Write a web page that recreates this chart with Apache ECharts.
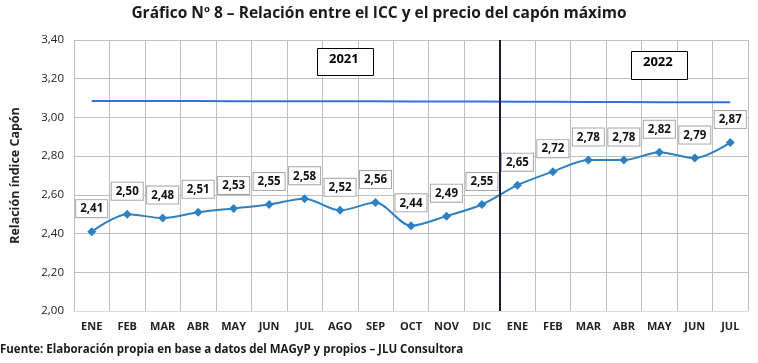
<!DOCTYPE html>
<html><head><meta charset="utf-8">
<script src="https://cdn.jsdelivr.net/npm/echarts@6/dist/echarts.min.js"></script>
<style>html,body{margin:0;padding:0;background:#fff}#c{width:758px;height:363px}</style>
</head><body><div id="c"></div>
<script>
const categories = ['ENE','FEB','MAR','ABR','MAY','JUN','JUL','AGO','SEP','OCT','NOV','DIC','ENE','FEB','MAR','ABR','MAY','JUN','JUL'];
const relacion = [2.41,2.50,2.48,2.51,2.53,2.55,2.58,2.52,2.56,2.44,2.49,2.55,2.65,2.72,2.78,2.78,2.82,2.79,2.87];
const referencia = [3.085,3.085,3.085,3.085,3.084,3.084,3.083,3.083,3.083,3.082,3.082,3.082,3.081,3.081,3.080,3.080,3.079,3.079,3.078];
const yearLabels = ['2021','2022'];
const yTicks = {min:2.0, max:3.4, interval:0.2};
const fmt = v => Number(v).toFixed(2).replace('.', ',');
const FONT = 'Open Sans';

const chart = echarts.init(document.getElementById('c'), null, {renderer:'canvas'});
chart.setOption({
  animation:false,
  textStyle:{fontFamily:FONT},
  title:{
    text:'Gráfico Nº 8 – Relación entre el ICC y el precio del capón máximo',
    left:'center', top:1,
    textStyle:{fontFamily:FONT, fontSize:15.5, fontWeight:'bold', color:'#1a1a1a'}
  },
  grid:{left:74, right:10, top:40, bottom:52},
  xAxis:[{
    type:'category', data:categories, boundaryGap:true,
    axisLine:{show:true, lineStyle:{color:'#d9d9d9'}},
    axisTick:{show:false},
    axisLabel:{color:'#222', fontSize:11, fontWeight:'bold', margin:10, interval:0},
    splitLine:{show:true, interval:0, lineStyle:{color:'#bfbfbf', width:1}}
  },{
    type:'value', min:-0.5, max:18.5, show:false
  }],
  yAxis:{
    type:'value', min:yTicks.min, max:yTicks.max, interval:yTicks.interval,
    name:'Relación índice Capón', nameLocation:'middle', nameGap:52,
    nameTextStyle:{fontFamily:FONT, fontSize:12.5, fontWeight:'bold', color:'#222'},
    axisLine:{show:false}, axisTick:{show:false},
    axisLabel:{formatter:fmt, color:'#222', fontSize:11.5, margin:10},
    splitLine:{lineStyle:{color:'#bfbfbf', width:1}}
  },
  series:[
    {
      type:'line', data:referencia, showSymbol:false, symbol:'none',
      lineStyle:{color:'#3a6ee0', width:2}, z:3
    },
    {
      type:'line', data:relacion, smooth:0.3,
      symbol:'diamond', symbolSize:9,
      itemStyle:{color:'#2e80c0'},
      lineStyle:{color:'#2e80c0', width:2},
      label:{
        show:true, position:'top', distance:10, formatter:p=>fmt(p.value),
        fontFamily:FONT, fontSize:11.5, fontWeight:'bold', color:'#111',
        backgroundColor:'#fff', borderColor:'#a6a6a6', borderWidth:1,
        padding:[3,4,2,4]
      }, z:4
    },
    {
      type:'line', xAxisIndex:1, data:[], silent:true,
      markLine:{
        symbol:'none', silent:true, label:{show:false},
        lineStyle:{color:'#1b1a3a', width:2, type:'solid'},
        data:[{xAxis:11.5}]
      }
    }
  ],
  graphic:[
    {type:'rect', left:317, top:48, shape:{width:56, height:27}, style:{fill:'#fff', stroke:'#000', lineWidth:1}, z:10},
    {type:'text', left:329, top:53, style:{text:yearLabels[0], font:'bold 13px "Open Sans"', fill:'#000'}, z:11},
    {type:'rect', left:631, top:51, shape:{width:56, height:28}, style:{fill:'#fff', stroke:'#000', lineWidth:1}, z:10},
    {type:'text', left:643, top:56, style:{text:yearLabels[1], font:'bold 13px "Open Sans"', fill:'#000'}, z:11},
    {type:'text', left:0, top:344, style:{text:'Fuente: Elaboración propia en base a datos del MAGyP y propios – JLU Consultora', font:'bold 11.5px "Open Sans"', fill:'#1a1a1a'}}
  ]
});
</script></body></html>
